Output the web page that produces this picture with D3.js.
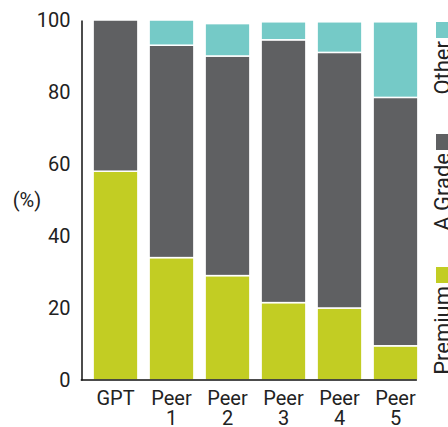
<!DOCTYPE html>
<html>
<head>
<meta charset="utf-8">
<script src="https://cdn.jsdelivr.net/npm/d3@7"></script>
<style>
    body { margin: 0; background: #fff; }
    svg text { font-family: Roboto, "DejaVu Sans", sans-serif; fill: #222; }
</style>
</head>
<body>
<div id="chart"></div>
<script>
const categories = [["GPT"], ["Peer", "1"], ["Peer", "2"], ["Peer", "3"], ["Peer", "4"], ["Peer", "5"]];
const premium = [58, 34, 29, 21.5, 20, 9.5];
const aGrade = [42, 59, 61, 73, 71, 69];
const other = [0, 7, 9, 5, 8.5, 21];
const seriesNames = ["Premium", "A Grade", "Other"];
const seriesColors = ["#c2cd23", "#5f6062", "#75cac7"];
const yTicks = [0, 20, 40, 60, 80, 100];

const width = 448;
const height = 427;
const margin = {top: 20, right: 30, bottom: 47, left: 81.5};

const svg = d3.select('#chart')
    .append('svg')
    .attr('width', width)
    .attr('height', height);

const x = d3.scaleBand()
    .domain(d3.range(categories.length))
    .range([margin.left + 6, margin.left + 6 + 336])
    .paddingInner(0.2)
    .paddingOuter(0.1);

const y = d3.scaleLinear()
    .domain([0, 100])
    .range([height - margin.bottom, margin.top]);

// stack the three series per category
const rows = categories.map((c, i) => ({i, Premium: premium[i], "A Grade": aGrade[i], Other: other[i]}));
const stacked = d3.stack().keys(seriesNames)(rows);

svg.append('g')
    .selectAll('g')
    .data(stacked)
    .enter().append('g')
    .attr('fill', (d, k) => seriesColors[k])
    .selectAll('rect')
    .data(d => d.filter(s => s[1] - s[0] > 0))
    .enter().append('rect')
    .attr('x', d => x(d.data.i))
    .attr('width', x.bandwidth())
    .attr('y', d => y(d[1]))
    .attr('height', d => y(d[0]) - y(d[1]))
    .attr('stroke', '#fff')
    .attr('stroke-width', 1.5);

// y axis
const yAxis = svg.append('g')
    .attr('transform', `translate(${margin.left},0)`)
    .call(d3.axisLeft(y).tickValues(yTicks).tickSize(0).tickPadding(11));
yAxis.select('.domain').attr('stroke', '#111').attr('stroke-width', 1.5);
yAxis.selectAll('text')
    .style('font-size', '20px')
    .attr('fill', '#222');

// x axis line
svg.append('line')
    .attr('x1', margin.left - 0.75)
    .attr('x2', x(categories.length - 1) + x.bandwidth() - 1)
    .attr('y1', y(0))
    .attr('y2', y(0))
    .attr('stroke', '#111')
    .attr('stroke-width', 1.5);

// x labels, "Peer" over the number
const xLabels = svg.append('g')
    .selectAll('text')
    .data(categories)
    .enter().append('text')
    .attr('text-anchor', 'middle')
    .attr('y', y(0) + 25)
    .style('font-size', '20px');
xLabels.selectAll('tspan')
    .data((d, i) => d.map(t => ({t, i})))
    .enter().append('tspan')
    .attr('x', d => x(d.i) + x.bandwidth() / 2)
    .attr('dy', (d, j) => j === 0 ? 0 : 20)
    .text(d => d.t);

// y unit label
svg.append('text')
    .attr('x', 27)
    .attr('y', 207)
    .attr('text-anchor', 'middle')
    .style('font-size', '20px')
    .text('(%)');

// legend, rotated along the right edge
const legendTops = [267, 134, 22];
const legend = svg.append('g')
    .selectAll('g')
    .data(seriesNames)
    .enter().append('g');

legend.append('rect')
    .attr('x', 436)
    .attr('y', (d, k) => legendTops[k])
    .attr('width', 16)
    .attr('height', 16)
    .attr('fill', (d, k) => seriesColors[k]);

legend.append('text')
    .attr('transform', (d, k) => `translate(450,${legendTops[k] + 19}) rotate(-90)`)
    .attr('text-anchor', 'end')
    .style('font-size', '22px')
    .text(d => d);
</script>
</body>
</html>
